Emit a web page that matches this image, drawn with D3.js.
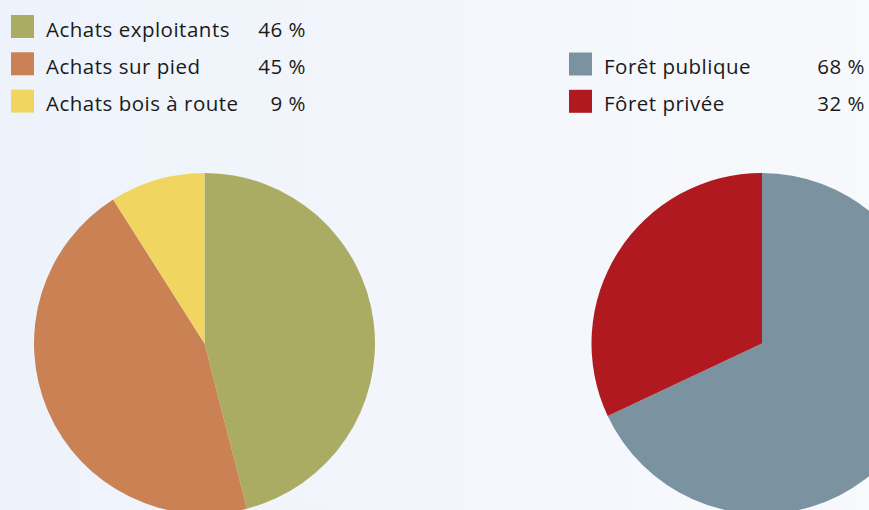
<!DOCTYPE html>
<html><head><meta charset="utf-8">
<script src="https://cdn.jsdelivr.net/npm/d3@7"></script>
<style>html,body{margin:0;padding:0;overflow:hidden;}svg{display:block;}</style>
</head><body>
<script>
const leftCategories = ["Achats exploitants", "Achats sur pied", "Achats bois à route"];
const leftValues = [46, 45, 9];
const leftColors = ["#aaac63", "#ca8255", "#f0d660"];
const rightCategories = ["Forêt publique", "Fôret privée"];
const rightValues = [68, 32];
const rightColors = ["#7b93a1", "#b01920"];

const W = 869, H = 510;
const svg = d3.select("body").append("svg").attr("width", W).attr("height", H);
const defs = svg.append("defs");
const grad = defs.append("linearGradient").attr("id", "bg").attr("x1", 0).attr("x2", 1).attr("y1", 0).attr("y2", 0);
grad.append("stop").attr("offset", 0).attr("stop-color", "#eef3fb");
grad.append("stop").attr("offset", 1).attr("stop-color", "#f7f9fc");
svg.append("rect").attr("width", W).attr("height", H).attr("fill", "url(#bg)");

const font = "'Open Sans', 'Noto Sans', sans-serif";
const fs = 20.5;

function drawPie(cx, cy, r, values, colors) {
  const pie = d3.pie().sort(null).value(d => d);
  const arc = d3.arc().innerRadius(0).outerRadius(r);
  const g = svg.append("g").attr("transform", `translate(${cx},${cy})`);
  g.selectAll("path").data(pie(values)).join("path")
    .attr("d", arc).attr("fill", (d, i) => colors[i]);
}
drawPie(204.5, 343.5, 170.5, leftValues, leftColors);
drawPie(762, 343.5, 170.5, rightValues, rightColors);

function drawLegend(x, y0, step, cats, vals, colors, pctRight) {
  const g = svg.append("g");
  cats.forEach((c, i) => {
    const y = y0 + i * step;
    g.append("rect").attr("x", x).attr("y", y).attr("width", 23).attr("height", 23).attr("fill", colors[i]);
    g.append("text").attr("x", x + 35).attr("y", y + 21.5).attr("font-family", font).attr("font-size", fs)
      .attr("letter-spacing", 0.5).attr("fill", "#1a1a1a").text(c);
    g.append("text").attr("x", pctRight).attr("y", y + 21.5).attr("text-anchor", "end").attr("font-family", font)
      .attr("font-size", fs).attr("letter-spacing", 0.5).attr("fill", "#1a1a1a").text(vals[i] + "\u00a0%");
  });
}
drawLegend(11, 15, 37.3, leftCategories, leftValues, leftColors, 306);
drawLegend(569, 52.5, 37.3, rightCategories, rightValues, rightColors, 865);
</script>
</body></html>
